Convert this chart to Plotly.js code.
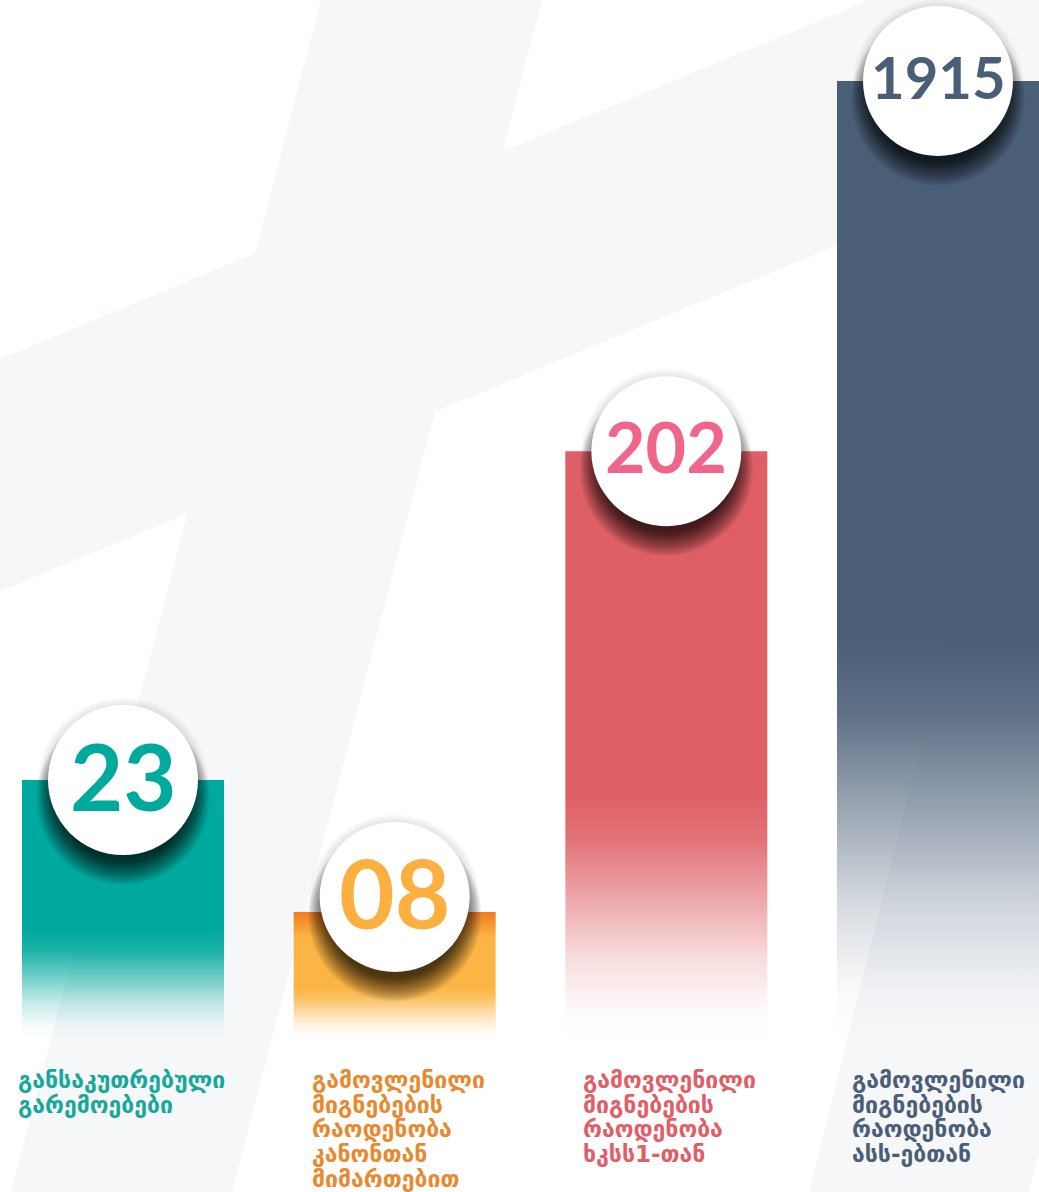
<!DOCTYPE html>
<html><head><meta charset="utf-8">
<script src="https://cdn.plot.ly/plotly-3.0.1.min.js"></script>
<style>html,body{margin:0;padding:0;background:#fff;overflow:hidden}#chart{width:1039px;height:1192px}</style>
</head><body><div id="chart"></div>
<script>
// ---------------- DATA ----------------
const categories = [
  "განსაკუთრებული გარემოებები",
  "გამოვლენილი მიგნებების რაოდენობა კანონთან მიმართებით",
  "გამოვლენილი მიგნებების რაოდენობა ხკსს1-თან",
  "გამოვლენილი მიგნებების რაოდენობა ასს-ებთან"
];
const labelLines = [
  ["განსაკუთრებული", "გარემოებები"],
  ["გამოვლენილი", "მიგნებების", "რაოდენობა", "კანონთან", "მიმართებით"],
  ["გამოვლენილი", "მიგნებების", "რაოდენობა", "ხკსს1-თან"],
  ["გამოვლენილი", "მიგნებების", "რაოდენობა", "ასს-ებთან"]
];
const values = [23, 8, 202, 1915];
const valueLabels = ["23", "08", "202", "1915"];
// bar heights as drawn in the infographic (relative units, tallest bar = 100)
const barHeights = [27.1, 13.35, 61.4, 100];

// ---------------- STYLE ----------------
const barColors = [[0,169,157], [251,181,69], [222,95,101], [74,94,119]];
const numberColors = ["#00a99d", "#fbb040", "#f0668a", "#4a5e77"];
const labelColors = ["#16a89b", "#e8892e", "#e15e67", "#4a5e77"];
const numberSizes = [92, 96, 70, 58];
const circleLift = [0, 15, 0, 0];      // px, badge offset above bar top
const labelShift = [-6, 16, 16, 13];   // px, label offset from bar left edge
const BAR_W = 0.7436;
const R = 75;
const BG = "#f6f7f9";
const W = 1039, H = 1192;
const LABEL_TOP = 1080, LABEL_STEP = 24.7;

function rgba(c, a) { return "rgba(" + c[0] + "," + c[1] + "," + c[2] + "," + a + ")"; }

const traces = barHeights.map((h, i) => {
  const c = barColors[i];
  const x0 = i - BAR_W / 2, x1 = i + BAR_W / 2;
  let cs = [[0, rgba(c, 0)], [0.05, rgba(c, 0.03)], [0.14, rgba(c, 0.22)], [0.24, rgba(c, 0.55)], [0.34, rgba(c, 0.88)], [0.42, rgba(c, 1)], [1, rgba(c, 1)]];
  if (i === 1) {
    cs = [[0, rgba(c, 0)], [0.05, rgba(c, 0.03)], [0.14, rgba(c, 0.22)], [0.24, rgba(c, 0.55)], [0.34, rgba(c, 0.88)], [0.42, rgba(c, 1)], [0.8, rgba(c, 1)], [1, "rgba(240,124,34,1)"]];
  }
  return {
    type: "scatter", mode: "lines", name: categories[i],
    x: [x0, x1, x1, x0, x0], y: [0, 0, h, h, 0],
    fill: "toself", line: { width: 0, color: rgba(c, 0) },
    fillgradient: { type: "vertical", colorscale: cs, start: 0, stop: h },
    hoverinfo: "skip", showlegend: false
  };
});

// background decoration (paper coordinates from pixel positions)
function P(pts) {
  return "M" + pts.map(p => (p[0] / W).toFixed(5) + "," + (1 - p[1] / H).toFixed(5)).join("L") + "Z";
}
const shapes = [
  { type: "path", xref: "paper", yref: "paper", layer: "below", line: { width: 0 }, fillcolor: BG,
    path: P([[0, 359], [1039, -70], [1039, 162], [0, 591]]) },
  { type: "path", xref: "paper", yref: "paper", layer: "below", line: { width: 0 }, fillcolor: BG,
    path: P([[321, 0], [542, 0], [232, 1192], [11, 1192]]) },
  { type: "path", xref: "paper", yref: "paper", layer: "below", line: { width: 0 }, fillcolor: BG,
    path: P([[809, 1192], [1029, 1192], [1327, 0], [1107, 0]]) }
];

function badgeCircle(i, h, dy, r, fill) {
  return { type: "circle", xref: "x", yref: "y", xsizemode: "pixel", ysizemode: "pixel",
    xanchor: i, yanchor: h, x0: -r, x1: r, y0: dy - r, y1: dy + r,
    fillcolor: fill, line: { width: 0 }, layer: "above" };
}

const annotations = [];
barHeights.forEach((h, i) => {
  const lift = circleLift[i];
  // faint soft halo
  for (let k = 0; k < 7; k++) {
    shapes.push(badgeCircle(i, h, lift - 3, 76 + k * 1.6, "rgba(0,0,0,0.018)"));
  }
  // soft drop shadow
  const N = 16, dy = -18;
  for (let k = 0; k < N; k++) {
    shapes.push(badgeCircle(i, h, lift + dy, 64 + k * 1.5, "rgba(0,0,0,0.06)"));
  }
  shapes.push(badgeCircle(i, h, lift, R, "#ffffff"));

  annotations.push({ xref: "x", yref: "y", x: i, y: h, yshift: lift + 5, showarrow: false,
    text: valueLabels[i], xanchor: "center", yanchor: "middle",
    font: { family: "Lato", size: numberSizes[i], weight: 700, color: numberColors[i] } });

  labelLines[i].forEach((line, j) => {
    annotations.push({ xref: "x", yref: "paper", x: i - BAR_W / 2, xshift: labelShift[i],
      y: 1 - (LABEL_TOP + j * LABEL_STEP) / H, xanchor: "left", yanchor: "middle", align: "left",
      showarrow: false, text: line,
      font: { family: "DejaVu Sans", size: 23, weight: 700, color: labelColors[i] } });
  });
});

const layout = {
  width: W, height: H, margin: { l: 0, r: 0, t: 0, b: 0 },
  paper_bgcolor: "#ffffff", plot_bgcolor: "rgba(0,0,0,0)",
  xaxis: { range: [-0.4528, 3.3718], visible: false, fixedrange: true },
  yaxis: { range: [-15.85, 108.45], visible: false, fixedrange: true },
  showlegend: false, shapes: shapes, annotations: annotations
};
Plotly.newPlot("chart", traces, layout, { staticPlot: true, displayModeBar: false });
</script>
</body></html>
